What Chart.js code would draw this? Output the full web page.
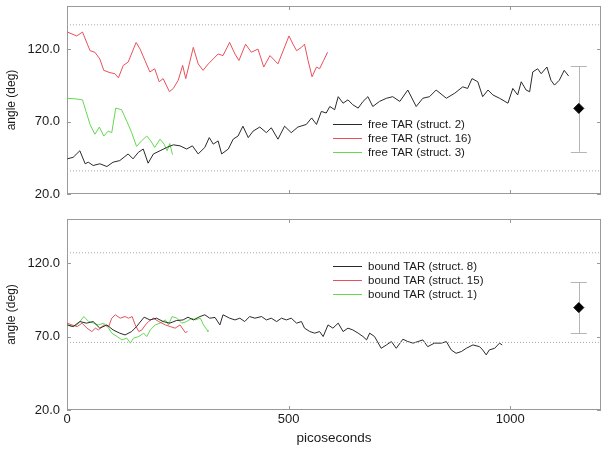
<!DOCTYPE html>
<html>
<head>
<meta charset="utf-8">
<script src="https://cdn.jsdelivr.net/npm/chart.js@4"></script>
<style>
  html, body { margin: 0; padding: 0; background: #fff; }
  #wrap { position: relative; width: 607px; height: 449px; }
  #wrap canvas { position: absolute; left: 0; }
  #topChart { top: 0; }
  #bottomChart { top: 205px; }
</style>
</head>
<body>
<div id="wrap">
  <canvas id="topChart" width="607" height="205" style="width:607px;height:205px"></canvas>
  <canvas id="bottomChart" width="607" height="244" style="width:607px;height:244px"></canvas>
</div>
<script>
// tick labels
const xTicks = [0, 500, 1000];
const yTicks = [20, 70, 120];

// free TAR, top panel
const freeS2Time = [0.7, 14, 29, 41, 48, 59, 74, 90, 104, 119, 138, 149, 161, 172, 183, 195, 210, 225, 240, 255, 270, 283, 296, 311, 321, 330, 341, 349, 364, 375, 386, 397, 409, 420, 435, 450, 461, 476, 491, 506, 521, 540, 552, 563, 574, 585, 593, 604, 612, 623, 634, 645, 657, 668, 679, 690, 705, 721, 735, 751, 769, 788, 803, 818, 833, 856, 875, 893, 904, 914, 927, 938, 950, 961, 976, 995, 1006, 1017, 1025, 1036, 1044, 1051, 1062, 1070, 1083, 1092, 1100, 1111, 1122, 1132];
const freeS2Angle = [44.3, 45.4, 49.9, 40.9, 42, 39.7, 40.9, 39, 42, 43.1, 47.7, 44.3, 48.8, 51.1, 41.3, 47.7, 49.9, 52.2, 54, 53.3, 51.1, 53.3, 47.7, 52.2, 59, 54.5, 56.7, 47.7, 51.1, 57.9, 60.1, 66.9, 59, 63.5, 66.3, 62.4, 65.8, 57.9, 66.9, 62.4, 66.3, 68.1, 72.6, 68.1, 77.1, 76, 80.5, 78.3, 87.3, 82.8, 85.1, 81.7, 79.4, 84, 87.3, 80.5, 84, 86.2, 87.3, 84, 91.9, 80.5, 86.2, 87.3, 91.9, 86.2, 89.7, 94.1, 93, 99.8, 97.6, 87.3, 91.9, 88.5, 86.2, 82.8, 93, 88.5, 97.6, 91.9, 90.7, 104.4, 106.6, 103.2, 107.8, 98.7, 95.3, 98.7, 105.5, 101.6];

const freeS16Time = [0.7, 22, 35, 46, 52, 63, 74, 83, 97, 108, 116, 127, 138, 156, 165, 176, 187, 198, 208, 217, 231, 240, 251, 261, 268, 285, 296, 307, 319, 330, 341, 352, 367, 379, 388, 403, 416, 431, 444, 458, 476, 501, 510, 518, 529, 536, 544, 553, 563, 570, 579, 588];
const freeS16Angle = [132, 129.3, 132, 123.6, 119.1, 118, 113.4, 105.5, 103.9, 103.2, 100.3, 108.9, 111.2, 124.8, 120.2, 112.3, 104.4, 106.6, 97.6, 99.8, 90.8, 93, 98.7, 108.9, 99.8, 121.4, 110, 105.5, 110, 113.4, 116.8, 115.7, 124.8, 116.8, 112.3, 123.6, 118, 120.2, 107.8, 115.7, 110, 129.3, 123.6, 119.1, 121.4, 123.6, 112.3, 101, 107.8, 106.6, 112.3, 118];

const freeS3Time = [0.7, 18, 35, 43, 52, 63, 73, 83, 93, 101, 110, 123, 135, 146, 157, 168, 180, 189, 198, 210, 219, 226, 232, 238];
const freeS3Angle = [86.2, 85.8, 85.1, 77.1, 68.1, 61.3, 66.3, 60.1, 63.5, 62.4, 79.4, 78.3, 70.3, 62.4, 52.9, 56.7, 60.1, 56.7, 52.2, 57.9, 54.5, 49.9, 54.9, 47.2];

// bound TAR, bottom panel
const boundS8Time = [0.7, 14, 29, 44, 59, 74, 90, 104, 119, 131, 146, 157, 174, 187, 202, 217, 232, 247, 262, 273, 285, 300, 311, 322, 334, 345, 352, 367, 379, 390, 401, 412, 424, 439, 450, 461, 473, 484, 495, 506, 518, 529, 536, 548, 559, 570, 578, 589, 600, 612, 623, 634, 645, 657, 668, 676, 683, 694, 709, 721, 732, 743, 758, 769, 781, 792, 803, 814, 829, 845, 856, 867, 878, 890, 901, 916, 931, 938, 946, 953, 965, 976, 982];
const boundS8Angle = [77.9, 76.8, 80.2, 79.1, 80.2, 75.7, 77.9, 74.5, 72.3, 71.1, 73.4, 76.8, 83.2, 81.3, 82.5, 80.2, 79.1, 80.9, 81.3, 83.2, 81.3, 83.6, 84.8, 82.5, 83, 77.9, 84.8, 82.5, 81.3, 82.5, 80.2, 83.6, 82.5, 83.6, 81.3, 82.5, 80.2, 82.5, 81.3, 82.5, 79.1, 80.2, 75.7, 73.4, 72.3, 73.4, 70, 77.9, 75.7, 79.1, 73.4, 75.7, 74.5, 72.3, 70, 67.7, 72.3, 70, 62, 64.3, 66.6, 62, 68.2, 66.6, 65.5, 66.6, 67.7, 63.1, 65.5, 65.5, 66.6, 60.9, 58.6, 59.8, 62, 64.3, 63.1, 60.9, 57.5, 60.9, 62, 65.5, 64.3];

const boundS15Time = [0, 11, 23, 34, 45, 56, 64, 71, 83, 94, 101, 109, 120, 131, 139, 147, 154, 162, 169, 177, 184, 195, 207, 214, 222, 233, 244, 255, 267, 272];
const boundS15Angle = [79.1, 77.9, 76.8, 79.1, 75.7, 73.4, 75.7, 74.5, 77.9, 76.8, 82.5, 84.8, 82.5, 83.6, 82.5, 83.6, 77.9, 73.4, 74.5, 77.9, 80.2, 82.5, 80.2, 79.1, 77.9, 76.8, 75.7, 77.9, 72.7, 73.4];

const boundS1Time = [0, 11, 23, 38, 49, 60, 71, 83, 94, 101, 113, 124, 135, 143, 150, 162, 173, 180, 188, 199, 210, 222, 229, 237, 248, 259, 270, 282, 289, 301, 308, 316, 318];
const boundS1Angle = [77.9, 76.8, 77.9, 83.6, 80.2, 79.1, 77.9, 79.1, 75.7, 72.3, 70, 67.7, 68.9, 65.5, 68.9, 70, 72.3, 70, 74.5, 77.9, 79.1, 81.3, 77.9, 83.6, 82.5, 79.1, 80.2, 82.5, 81.3, 82.5, 77.9, 74.5, 73.4];

// dotted reference levels and mean +/- spread markers
const refTop = [36, 137];
const refBottom = [66, 127];
const markerTime = 1155;
const markerTop = [49.3, 79.2, 108.4];     // low, mean, high
const markerBottom = [72.3, 89.7, 106.8];

const X_MAX = 1205;
const FONT = "'Liberation Sans', Arial, Helvetica, sans-serif";
const TEXT = "#1a1a1a";

function toPoints(times, angles) {
  return times.map((t, i) => ({ x: t, y: angles[i] }));
}

function series(label, times, angles, color) {
  return {
    label, data: toPoints(times, angles), borderColor: color,
    borderWidth: 1, pointRadius: 0, tension: 0, inLegend: true,
  };
}

function refLines(levels) {
  return levels.map(v => ({
    data: [{ x: 0, y: v }, { x: X_MAX, y: v }],
    borderColor: "#a8a8a8", borderWidth: 1, borderDash: [1, 2],
    pointRadius: 0,
  }));
}

function meanPoint(values) {
  return {
    type: "scatter",
    data: [{ x: markerTime, y: values[1] }],
    pointStyle: "rectRot", pointRadius: 5, backgroundColor: "#000",
    borderColor: "#000", borderWidth: 1,
  };
}

// frame + inward ticks, whiskers, inset legend
const framePlugin = {
  id: "frame",
  beforeDatasetsDraw(chart, args, opts) {
    const { ctx, chartArea: a, scales } = chart;
    ctx.save();
    ctx.strokeStyle = "#9a9a9a";
    ctx.lineWidth = 1;
    ctx.strokeRect(a.left + 0.5, a.top + 0.5, a.right - a.left - 1, a.bottom - a.top - 1);
    ctx.beginPath();
    xTicks.forEach(v => {
      const px = Math.round(scales.x.getPixelForValue(v)) + 0.5;
      ctx.moveTo(px, a.top); ctx.lineTo(px, a.top + 4);
      ctx.moveTo(px, a.bottom); ctx.lineTo(px, a.bottom - 4);
    });
    yTicks.forEach(v => {
      const py = Math.round(scales.y.getPixelForValue(v)) + 0.5;
      ctx.moveTo(a.left, py); ctx.lineTo(a.left + 4, py);
      ctx.moveTo(a.right, py); ctx.lineTo(a.right - 4, py);
    });
    ctx.stroke();

    const m = opts.marker;
    const x = scales.x.getPixelForValue(markerTime);
    const lo = scales.y.getPixelForValue(m[0]);
    const hi = scales.y.getPixelForValue(m[2]);
    ctx.strokeStyle = "#b5b5b5";
    ctx.beginPath();
    ctx.moveTo(Math.round(x) + 0.5, lo); ctx.lineTo(Math.round(x) + 0.5, hi);
    ctx.moveTo(x - 8, Math.round(lo) + 0.5); ctx.lineTo(x + 8, Math.round(lo) + 0.5);
    ctx.moveTo(x - 8, Math.round(hi) + 0.5); ctx.lineTo(x + 8, Math.round(hi) + 0.5);
    ctx.stroke();
    ctx.restore();
  },
  afterDatasetsDraw(chart, args, opts) {
    const ctx = chart.ctx;
    const items = chart.data.datasets.filter(d => d.inLegend);
    ctx.save();
    ctx.font = "11.5px " + FONT;
    ctx.textBaseline = "middle";
    items.forEach((d, i) => {
      const y = Math.round(opts.legendY + i * opts.legendGap) + 0.5;
      ctx.strokeStyle = d.borderColor;
      ctx.lineWidth = 1;
      ctx.beginPath();
      ctx.moveTo(opts.legendX, y); ctx.lineTo(opts.legendX + 29, y);
      ctx.stroke();
      ctx.fillStyle = TEXT;
      ctx.fillText(d.label, opts.legendX + 35, y);
    });
    ctx.restore();
  },
};

function makeOptions(showX, padding, marker, legendY) {
  return {
    responsive: false,
    animation: false,
    layout: { padding },
    plugins: {
      legend: { display: false },
      tooltip: { enabled: false },
      frame: { marker, legendX: 333, legendY, legendGap: 14.2 },
    },
    scales: {
      x: {
        type: "linear", min: 0, max: X_MAX,
        afterBuildTicks: s => { s.ticks = xTicks.map(v => ({ value: v })); },
        afterFit: s => {
          s.height = showX ? 39 : 0;
          s.paddingLeft = 0; s.paddingRight = 0;
        },
        grid: { display: false, drawTicks: false },
        border: { display: false },
        ticks: {
          display: showX, padding: 2, color: TEXT, font: { size: 13, family: FONT },
          callback: v => String(v),
        },
        title: {
          display: showX, text: "picoseconds", color: TEXT,
          font: { size: 13.5, family: FONT }, padding: { top: 0, bottom: 3 },
        },
      },
      y: {
        min: 20, max: 150,
        afterBuildTicks: s => { s.ticks = yTicks.map(v => ({ value: v })); },
        afterFit: s => {
          s.width = 67;
          s.paddingTop = 0; s.paddingBottom = 0;
        },
        grid: { display: false, drawTicks: false },
        border: { display: false },
        ticks: {
          padding: 7, color: TEXT, font: { size: 13, family: FONT },
          callback: v => Number(v).toFixed(1),
        },
        title: {
          display: true, text: "angle (deg)", color: TEXT,
          font: { size: 12, family: FONT }, padding: { top: 4, bottom: 0 },
        },
      },
    },
  };
}

new Chart(document.getElementById("topChart"), {
  type: "line",
  data: {
    datasets: [
      ...refLines(refTop),
      series("free TAR (struct. 2)", freeS2Time, freeS2Angle, "#2a2a2a"),
      series("free TAR (struct. 16)", freeS16Time, freeS16Angle, "#e8505b"),
      series("free TAR (struct. 3)", freeS3Time, freeS3Angle, "#62d94f"),
      meanPoint(markerTop),
    ],
  },
  options: makeOptions(false, { top: 4, bottom: 11, right: 5, left: 0 }, markerTop, 124),
  plugins: [framePlugin],
});

new Chart(document.getElementById("bottomChart"), {
  type: "line",
  data: {
    datasets: [
      ...refLines(refBottom),
      series("bound TAR (struct. 8)", boundS8Time, boundS8Angle, "#2a2a2a"),
      series("bound TAR (struct. 15)", boundS15Time, boundS15Angle, "#e8505b"),
      series("bound TAR (struct. 1)", boundS1Time, boundS1Angle, "#62d94f"),
      meanPoint(markerBottom),
    ],
  },
  options: makeOptions(true, { top: 14, bottom: 0, right: 5, left: 0 }, markerBottom, 61),
  plugins: [framePlugin],
});
</script>
</body>
</html>
